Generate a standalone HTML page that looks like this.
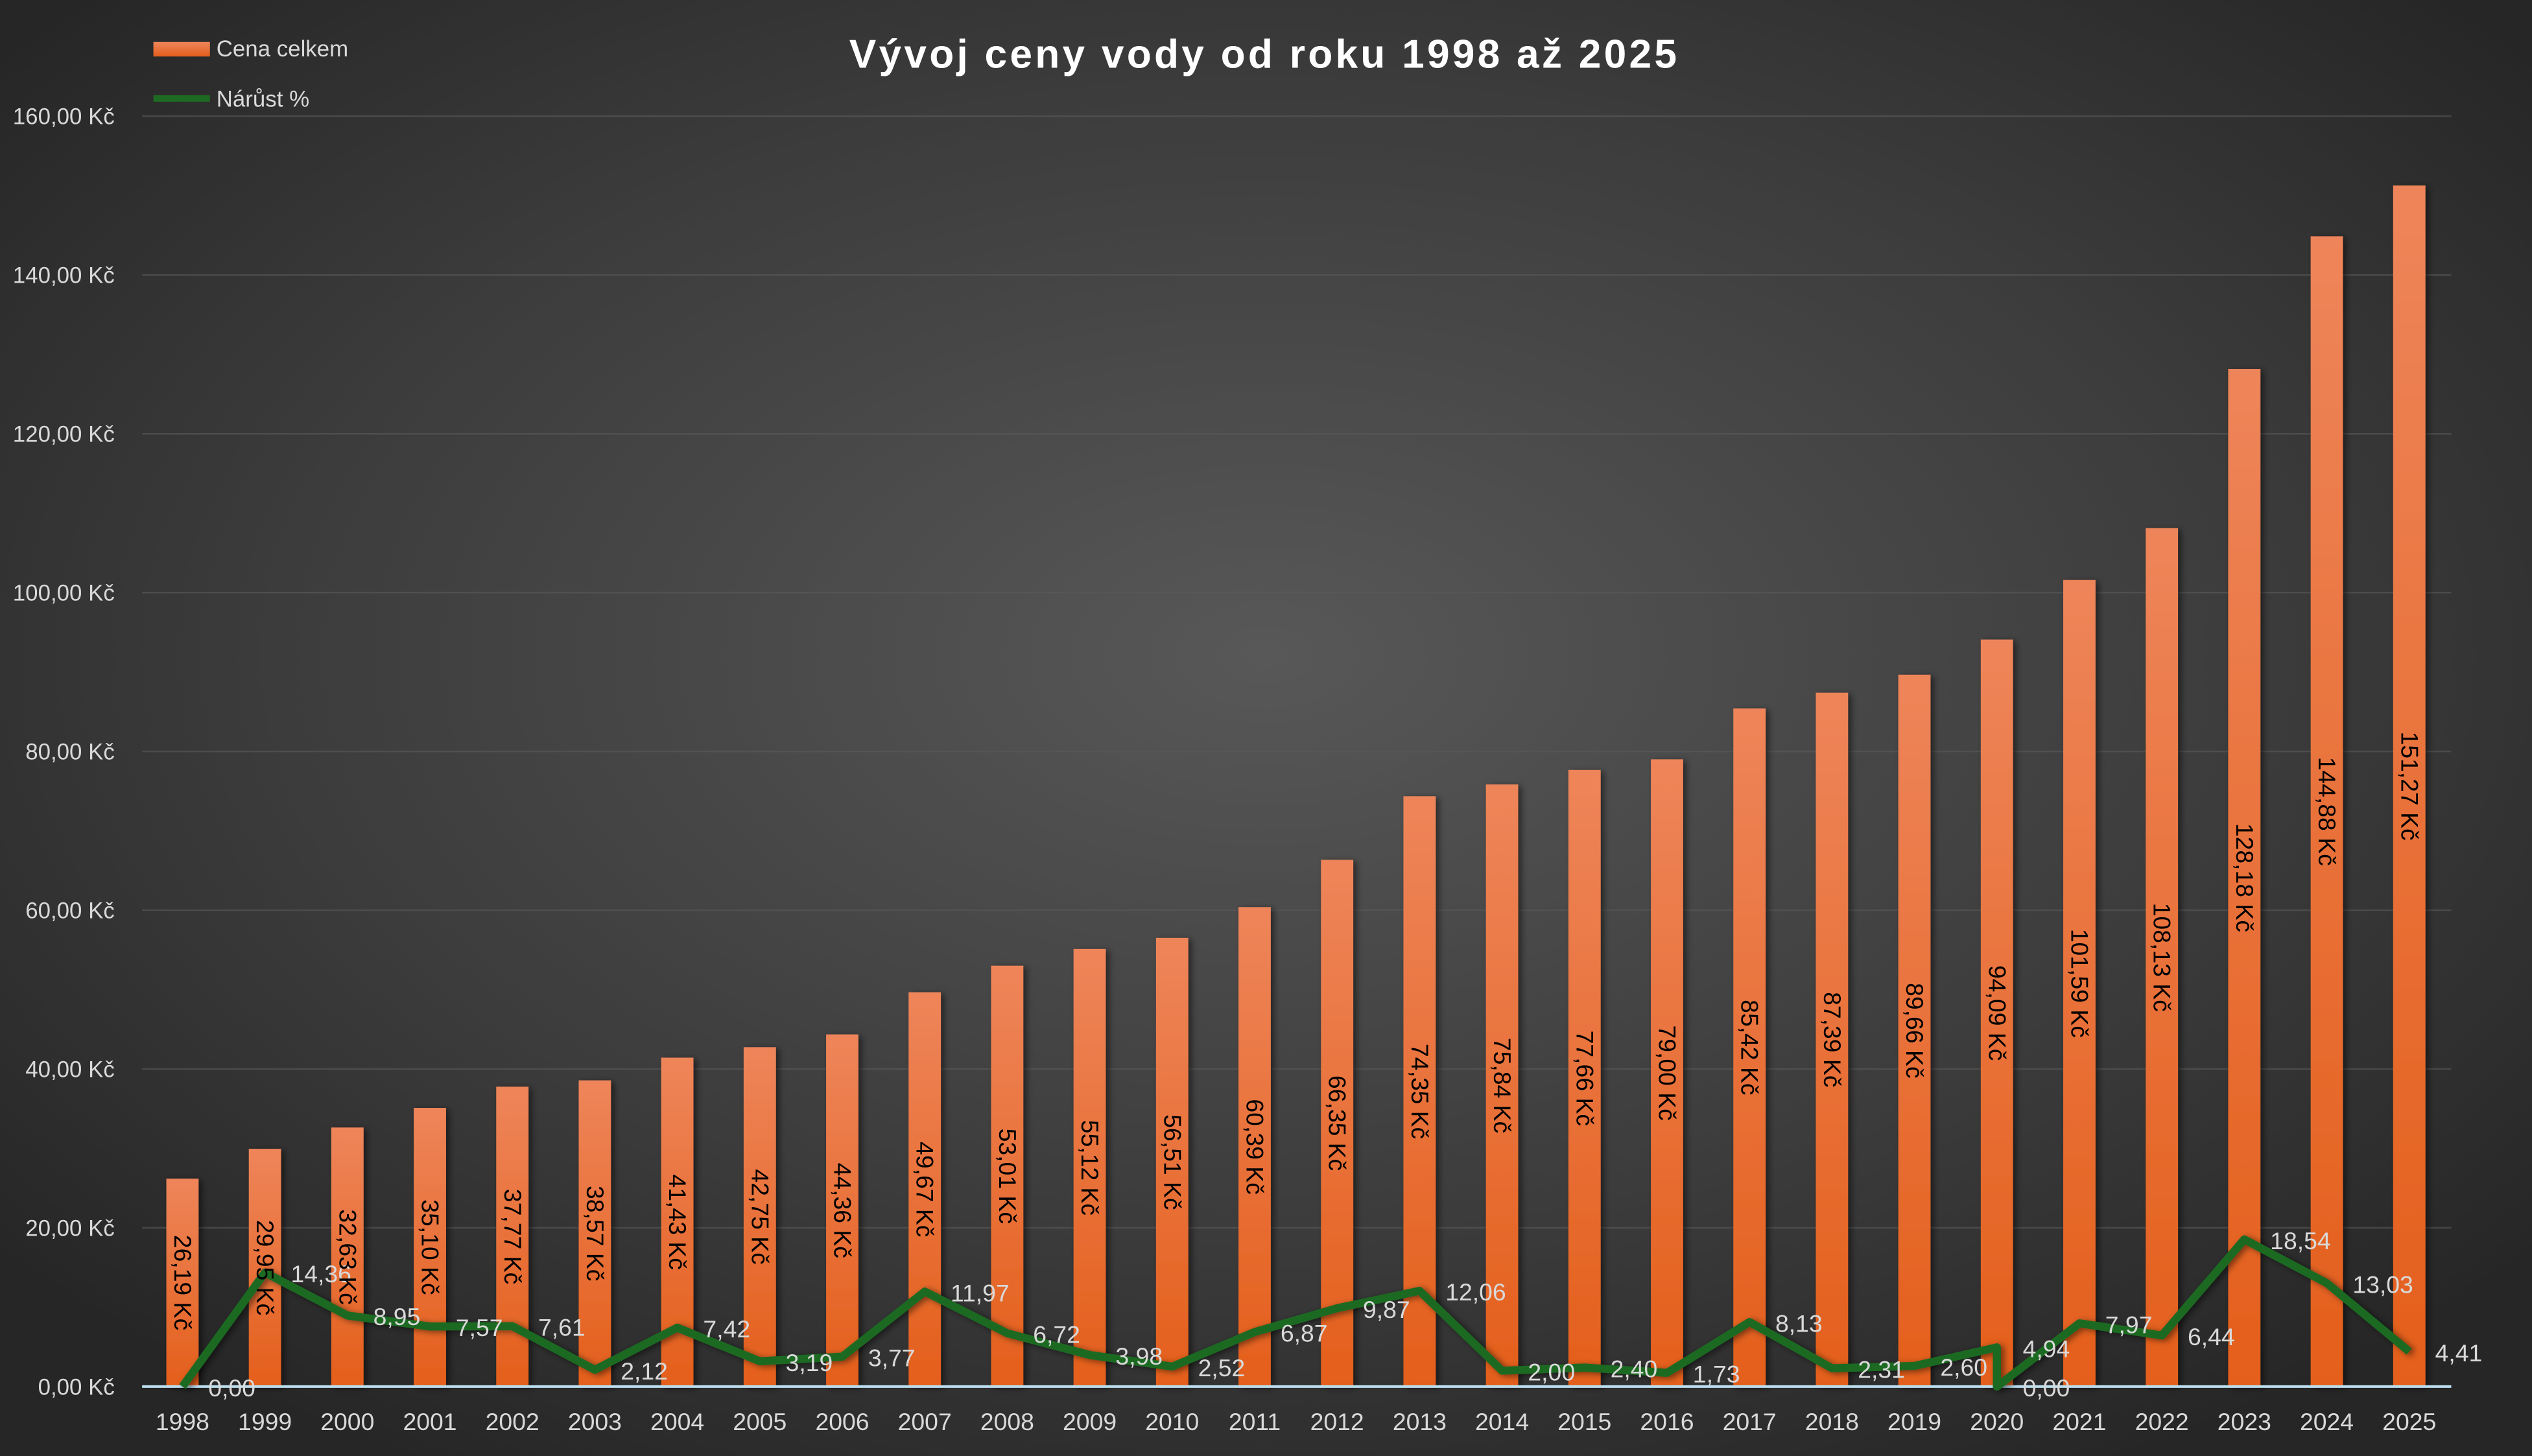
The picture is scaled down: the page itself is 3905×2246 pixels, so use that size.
<!DOCTYPE html>
<html><head><meta charset="utf-8">
<style>
html,body{margin:0;padding:0;background:#2a2a2a;}
svg{display:block;}
text{font-family:"Liberation Sans Narrow","Liberation Sans",sans-serif;}
</style></head>
<body>
<svg id="c" xmlns="http://www.w3.org/2000/svg" width="3905" height="2246" viewBox="0 0 1568 902" preserveAspectRatio="none">
<defs>
<radialGradient id="bg" cx="0.5" cy="0.45" r="0.65">
<stop offset="0" stop-color="#585858"/>
<stop offset="0.6" stop-color="#3c3c3c"/>
<stop offset="1" stop-color="#262626"/>
</radialGradient>
<linearGradient id="bar" x1="0" y1="0" x2="0" y2="1">
<stop offset="0" stop-color="#ee855a"/>
<stop offset="1" stop-color="#e45f1b"/>
</linearGradient>
<filter id="sh" x="-50%" y="-10%" width="200%" height="120%"><feDropShadow dx="2" dy="1" stdDeviation="2" flood-color="#000" flood-opacity="0.5"/></filter>
</defs>
<rect width="1568" height="902" fill="url(#bg)"/>
<g id="grid"></g>
<g id="bars"></g>
<line x1="88" y1="859" x2="1518" y2="859" stroke="#bcdff0" stroke-width="1.6"/>
<g id="line"></g>
<g id="labels"></g>
<text x="783" y="42" text-anchor="middle" fill="#ffffff" font-size="25" font-weight="bold" letter-spacing="1.7" style="font-family:'Liberation Sans',sans-serif">Vývoj ceny vody od roku 1998 až 2025</text>
<rect x="95" y="26" width="35" height="9" fill="url(#bar)"/>
<text x="134" y="35" fill="#d9d9d9" font-size="14">Cena celkem</text>
<line x1="95" y1="61" x2="130" y2="61" stroke="#1d6b22" stroke-width="4"/>
<text x="134" y="66" fill="#d9d9d9" font-size="14">Nárůst %</text>
</svg>
<script>
const NS="http://www.w3.org/2000/svg";
function el(p,t,a,txt){const e=document.createElementNS(NS,t);for(const k in a)e.setAttribute(k,a[k]);if(txt!==undefined)e.textContent=txt;document.getElementById(p).appendChild(e);return e;}
const base=859, per=787/160;
for(let i=0;i<=8;i++){const y=base-i*20*per;
 if(i>0)el("grid","line",{x1:88,x2:1518,y1:y,y2:y,stroke:"#5a5a5a","stroke-width":1,"stroke-opacity":0.6});
 el("grid","text",{x:71,y:y+5,"text-anchor":"end",fill:"#d9d9d9","font-size":14},(i*20).toFixed(2).replace(".",",")+" Kč");}
const vals=[26.19,29.95,32.63,35.10,37.77,38.57,41.43,42.75,44.36,49.67,53.01,55.12,56.51,60.39,66.35,74.35,75.84,77.66,79.00,85.42,87.39,89.66,94.09,101.59,108.13,128.18,144.88,151.27];
const pct=[0,14.36,8.95,7.57,7.61,2.12,7.42,3.19,3.77,11.97,6.72,3.98,2.52,6.87,9.87,12.06,2.00,2.40,1.73,8.13,2.31,2.60,4.94,7.97,6.44,18.54,13.03,4.41];
const dx=(1492-113)/27;
let pts=[];
vals.forEach((v,i)=>{const x=113+i*dx, h=v*per;
 el("bars","rect",{x:x-10,y:base-h,width:20,height:h,fill:"url(#bar)",filter:"url(#sh)"});
 const cy=base-h/2;
 el("labels","text",{x:0,y:0,transform:`translate(${x},${cy}) rotate(90)`,"text-anchor":"middle",dy:5,fill:"#000","font-size":15},v.toFixed(2).replace(".",",")+" Kč");
 el("labels","text",{x:x,y:886,"text-anchor":"middle",fill:"#d9d9d9","font-size":15},String(1998+i));
 const py=base-pct[i]*per;
 pts.push(x+","+py);
 if(i===22){pts.push(x+","+base);}
 el("labels","text",{x:x+16,y:py+6,fill:"#d9d9d9","font-size":15},pct[i].toFixed(2).replace(".",","));
 if(i===22)el("labels","text",{x:x+16,y:base+6,fill:"#d9d9d9","font-size":15},"0,00");
});
el("line","polyline",{points:pts.join(" "),fill:"none",stroke:"#1d6b22","stroke-width":5,"stroke-linejoin":"round",filter:"url(#sh)"});
</script>
</body></html>
